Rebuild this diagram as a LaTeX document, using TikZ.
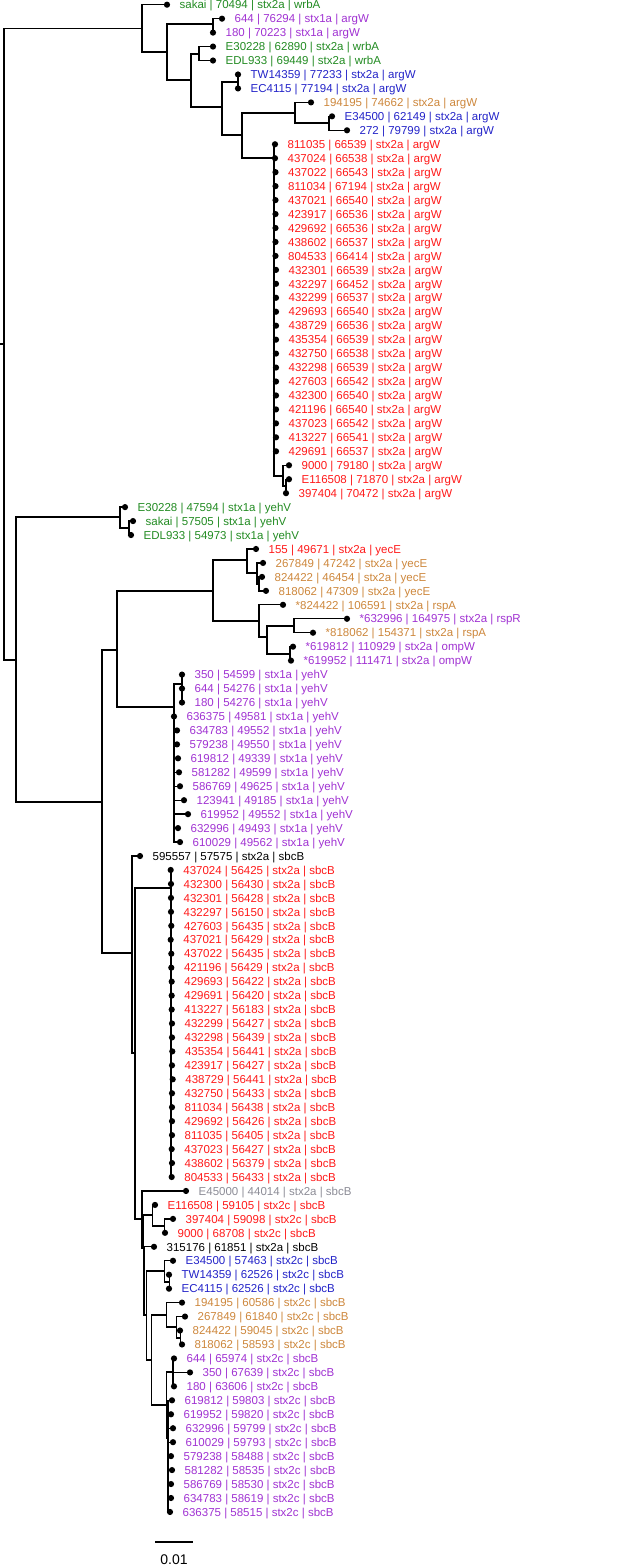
\documentclass[tikz,border=0pt]{standalone}
\usepackage{fontspec}
\setmainfont{Liberation Sans}
\definecolor{cg}{RGB}{34,139,34}
\definecolor{cp}{RGB}{160,50,210}
\definecolor{cb}{RGB}{35,35,200}
\definecolor{co}{RGB}{205,135,60}
\definecolor{cr}{RGB}{255,25,25}
\definecolor{cy}{RGB}{140,140,150}
\definecolor{ck}{RGB}{0,0,0}
\begin{document}
\begin{tikzpicture}[x=1pt,y=-1pt,
  edge/.style={line width=1.35pt, line join=miter, draw=black},
  dot/.style={circle, fill=black, inner sep=0pt, minimum size=6.2pt},
  lab/.style={anchor=base west, inner sep=0pt, font=\fontsize{11.5}{13}\selectfont}]
\useasboundingbox (0,0) rectangle (634,1567);
% internal nodes
\foreach \n/\x/\y in {r0/0/344, r/4/344, nA/142/28.4, nA2/167/52, n3/213/24, n4/191/80,
  n5/199/54, n6/222/107, n7/238/82, n8/242/135, n9/295/113, n11/329/123, n10/274/158,
  n12/283/476, n13/286/486, nL/16/660, nG/120/517, nG2/129/528, nM/102/802, nU/117/650,
  nY/213/591, n23/247/560, n25/257/573, n26/259/584, n24/259/621, n27/267/637,
  n28/294/626, n29/290/654, nV/174/707, n30/182/684, nS/132/953, n32/135/1053,
  n34/171/888, n33/142/1219, nX/143.3/1248, n36/152.7/1215, n38/164.3/1226,
  nY2/144/1281, nZ/146.7/1315, nB/164.3/1271, nB2/169.3/1282, nR/151.7/1360,
  nO/166.7/1315, nO2/176.7/1327, nO3/180.3/1338, nP/166.7/1405, nP1/173/1372,
  nP2/168/1438}
  \coordinate (\n) at (\x,\y);
% leaves
\def\leaves{1/167/cg/{sakai | 70494 | stx2a | wrbA},
2/222/cp/{644 | 76294 | stx1a | argW},
3/213/cp/{180 | 70223 | stx1a | argW},
4/213/cg/{E30228 | 62890 | stx2a | wrbA},
5/213/cg/{EDL933 | 69449 | stx2a | wrbA},
6/238/cb/{TW14359 | 77233 | stx2a | argW},
7/238/cb/{EC4115 | 77194 | stx2a | argW},
8/311/co/{194195 | 74662 | stx2a | argW},
9/332/cb/{E34500 | 62149 | stx2a | argW},
10/347/cb/{272 | 79799 | stx2a | argW},
11/275/cr/{811035 | 66539 | stx2a | argW},
12/275/cr/{437024 | 66538 | stx2a | argW},
13/275.5/cr/{437022 | 66543 | stx2a | argW},
14/275.5/cr/{811034 | 67194 | stx2a | argW},
15/275.5/cr/{437021 | 66540 | stx2a | argW},
16/275.5/cr/{423917 | 66536 | stx2a | argW},
17/275.5/cr/{429692 | 66536 | stx2a | argW},
18/275.5/cr/{438602 | 66537 | stx2a | argW},
19/275.5/cr/{804533 | 66414 | stx2a | argW},
20/276/cr/{432301 | 66539 | stx2a | argW},
21/276/cr/{432297 | 66452 | stx2a | argW},
22/276/cr/{432299 | 66537 | stx2a | argW},
23/276/cr/{429693 | 66540 | stx2a | argW},
24/276/cr/{438729 | 66536 | stx2a | argW},
25/276/cr/{435354 | 66539 | stx2a | argW},
26/276/cr/{432750 | 66538 | stx2a | argW},
27/276/cr/{432298 | 66539 | stx2a | argW},
28/276/cr/{427603 | 66542 | stx2a | argW},
29/276/cr/{432300 | 66540 | stx2a | argW},
30/276/cr/{421196 | 66540 | stx2a | argW},
31/276/cr/{437023 | 66542 | stx2a | argW},
32/276/cr/{413227 | 66541 | stx2a | argW},
33/276/cr/{429691 | 66537 | stx2a | argW},
34/289/cr/{9000 | 79180 | stx2a | argW},
35/289/cr/{E116508 | 71870 | stx2a | argW},
36/286/cr/{397404 | 70472 | stx2a | argW},
37/125/cg/{E30228 | 47594 | stx1a | yehV},
38/133/cg/{sakai | 57505 | stx1a | yehV},
39/131/cg/{EDL933 | 54973 | stx1a | yehV},
40/256/cr/{155 | 49671 | stx2a | yecE},
41/263/co/{267849 | 47242 | stx2a | yecE},
42/262/co/{824422 | 46454 | stx2a | yecE},
43/266/co/{818062 | 47309 | stx2a | yecE},
44/283/co/{*824422 | 106591 | stx2a | rspA},
45/347/cp/{*632996 | 164975 | stx2a | rspR},
46/313/co/{*818062 | 154371 | stx2a | rspA},
47/293/cp/{*619812 | 110929 | stx2a | ompW},
48/291/cp/{*619952 | 111471 | stx2a | ompW},
49/182/cp/{350 | 54599 | stx1a | yehV},
50/182/cp/{644 | 54276 | stx1a | yehV},
51/182/cp/{180 | 54276 | stx1a | yehV},
52/174/cp/{636375 | 49581 | stx1a | yehV},
53/177/cp/{634783 | 49552 | stx1a | yehV},
54/177/cp/{579238 | 49550 | stx1a | yehV},
55/178/cp/{619812 | 49339 | stx1a | yehV},
56/179/cp/{581282 | 49599 | stx1a | yehV},
57/180/cp/{586769 | 49625 | stx1a | yehV},
58/184/cp/{123941 | 49185 | stx1a | yehV},
59/188/cp/{619952 | 49552 | stx1a | yehV},
60/178/cp/{632996 | 49493 | stx1a | yehV},
61/180/cp/{610029 | 49562 | stx1a | yehV},
62/140/ck/{595557 | 57575 | stx2a | sbcB},
63/170.7/cr/{437024 | 56425 | stx2a | sbcB},
64/171/cr/{432300 | 56430 | stx2a | sbcB},
65/171/cr/{432301 | 56428 | stx2a | sbcB},
66/171/cr/{432297 | 56150 | stx2a | sbcB},
67/171.3/cr/{427603 | 56435 | stx2a | sbcB},
68/170.7/cr/{437021 | 56429 | stx2a | sbcB},
69/171.3/cr/{437022 | 56435 | stx2a | sbcB},
70/171.3/cr/{421196 | 56429 | stx2a | sbcB},
71/171.7/cr/{429693 | 56422 | stx2a | sbcB},
72/171.7/cr/{429691 | 56420 | stx2a | sbcB},
73/171.7/cr/{413227 | 56183 | stx2a | sbcB},
74/172/cr/{432299 | 56427 | stx2a | sbcB},
75/172/cr/{432298 | 56439 | stx2a | sbcB},
76/172.3/cr/{435354 | 56441 | stx2a | sbcB},
77/172/cr/{423917 | 56427 | stx2a | sbcB},
78/172.7/cr/{438729 | 56441 | stx2a | sbcB},
79/172/cr/{432750 | 56433 | stx2a | sbcB},
80/172/cr/{811034 | 56438 | stx2a | sbcB},
81/172/cr/{429692 | 56426 | stx2a | sbcB},
82/172/cr/{811035 | 56405 | stx2a | sbcB},
83/171.7/cr/{437023 | 56427 | stx2a | sbcB},
84/172/cr/{438602 | 56379 | stx2a | sbcB},
85/171.7/cr/{804533 | 56433 | stx2a | sbcB},
86/186/cy/{E45000 | 44014 | stx2a | sbcB},
87/155/cr/{E116508 | 59105 | stx2c | sbcB},
88/173/cr/{397404 | 59098 | stx2c | sbcB},
89/165/cr/{9000 | 68708 | stx2c | sbcB},
90/154/ck/{315176 | 61851 | stx2a | sbcB},
91/173/cb/{E34500 | 57463 | stx2c | sbcB},
92/169/cb/{TW14359 | 62526 | stx2c | sbcB},
93/169/cb/{EC4115 | 62526 | stx2c | sbcB},
94/182/co/{194195 | 60586 | stx2c | sbcB},
95/185/co/{267849 | 61840 | stx2c | sbcB},
96/180/co/{824422 | 59045 | stx2c | sbcB},
97/182/co/{818062 | 58593 | stx2c | sbcB},
98/174/cp/{644 | 65974 | stx2c | sbcB},
99/190/cp/{350 | 67639 | stx2c | sbcB},
100/174/cp/{180 | 63606 | stx2c | sbcB},
101/172/cp/{619812 | 59803 | stx2c | sbcB},
102/171/cp/{619952 | 59820 | stx2c | sbcB},
103/173/cp/{632996 | 59799 | stx2c | sbcB},
104/173/cp/{610029 | 59793 | stx2c | sbcB},
105/171/cp/{579238 | 58488 | stx2c | sbcB},
106/172/cp/{581282 | 58535 | stx2c | sbcB},
107/171/cp/{586769 | 58530 | stx2c | sbcB},
108/171/cp/{634783 | 58619 | stx2c | sbcB},
109/170/cp/{636375 | 58515 | stx2c | sbcB}}
\foreach \i/\x/\c/\t in \leaves {
  \pgfmathsetmacro\yy{4.7+(\i-1)*13.956}
  \coordinate (p\i) at (\x,\yy);
}
% edges
\foreach \a/\b in {r0/r, r/nA, r/nL, nA/p1, nA/nA2, nA2/n3, nA2/n4, n3/p2, n3/p3,
  n4/n5, n4/n6, n5/p4, n5/p5, n6/n7, n6/n8, n7/p6, n7/p7, n8/n9, n8/n10, n9/p8,
  n9/n11, n11/p9, n11/p10, n10/n12, n12/p34, n12/n13, n13/p35, n13/p36,
  nL/nG, nL/nM, nG/p37, nG/nG2, nG2/p38, nG2/p39,
  nM/nU, nM/nS, nU/nY, nU/nV, nY/n23, nY/n24, n23/p40, n23/n25, n25/p41, n25/n26,
  n26/p42, n26/p43, n24/p44, n24/n27, n27/n28, n27/n29, n28/p45, n28/p46,
  n29/p47, n29/p48, nV/n30, n30/p49, n30/p50, n30/p51,
  nS/p62, nS/n32, n32/n34, n32/n33, n33/p86, n33/nX, nX/n36, nX/nY2,
  n36/p87, n36/n38, n38/p88, n38/p89, nY2/p90, nY2/nZ, nZ/nB, nZ/nR,
  nB/p91, nB/nB2, nB2/p92, nB2/p93, nR/nO, nR/nP, nO/p94, nO/nO2, nO2/p95,
  nO2/nO3, nO3/p96, nO3/p97, nP/nP1, nP/nP2, nP1/p98, nP1/p99, nP1/p100}
  \draw[edge] (\a) |- (\b);
\foreach \k in {11,...,33} \draw[edge] (n10) |- (p\k);
\foreach \k in {52,...,61} \draw[edge] (nV) |- (p\k);
\foreach \k in {63,...,85} \draw[edge] (n34) |- (p\k);
\foreach \k in {101,...,109} \draw[edge] (nP2) |- (p\k);
% dots and labels
\foreach \i/\x/\c/\t in \leaves {
  \node[dot] (l\i) at (p\i) {};
  \node[lab, text=\c] (t\i) at ([xshift=12.5pt, yshift=-4.2pt] p\i) {\t};
}
% scale bar
\coordinate (s1) at (155,1542);
\coordinate (s2) at (193,1542);
\draw[edge] (s1) -- (s2);
\node[font=\fontsize{14}{16}\selectfont, inner sep=0pt] (sl) at (174,1560) {0.01};
\end{tikzpicture}
\end{document}
